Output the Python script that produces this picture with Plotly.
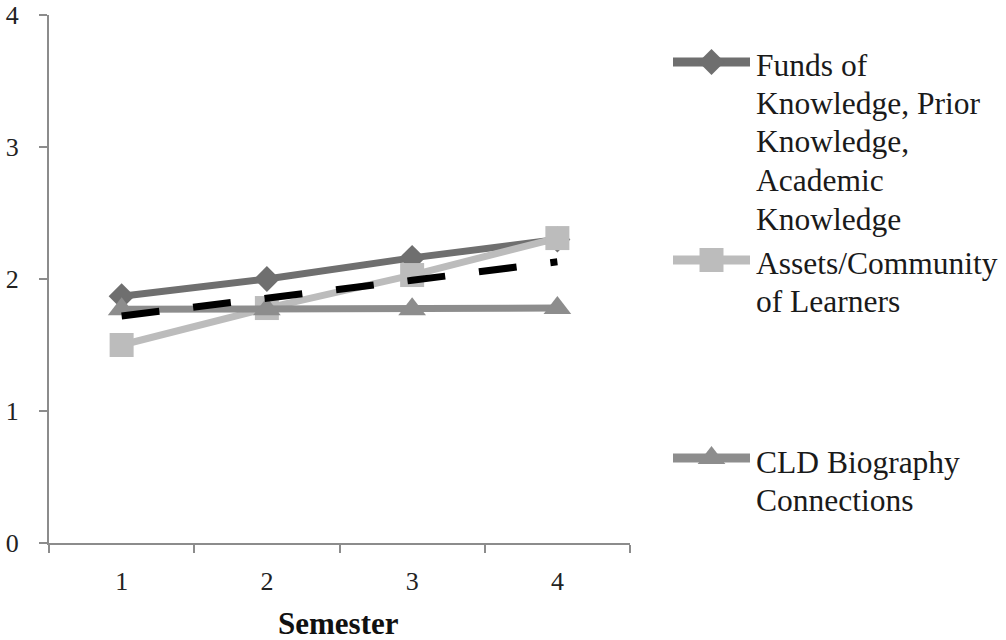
import plotly.graph_objects as go

semesters = ["1", "2", "3", "4"]
funds = [1.87, 2.00, 2.16, 2.30]
assets = [1.50, 1.78, 2.03, 2.31]
cld = [1.77, 1.77, 1.77, 1.78]
average = [1.72, 1.85, 1.99, 2.13]

name_lines = [
    ["Funds of", "Knowledge, Prior", "Knowledge,", "Academic", "Knowledge"],
    ["Assets/Community", "of Learners"],
    ["CLD Biography", "Connections"],
]
colors = ["#6f6f6f", "#bcbcbc", "#8d8d8d"]
symbols = ["diamond", "square", "triangle-up"]
msizes = [20, 24, 24]

W, H = 1006, 640
L, T = 49, 15
PR, PB = 630, 543  # plot-area right & bottom in px


def px_x(px):
    return (px - L) / (W - L)


def px_y(py):
    return (PB - py) / (PB - T)


fig = go.Figure()

series = [funds, assets, cld]
for vals, c, s, ms in zip(series, colors, symbols, msizes):
    fig.add_trace(go.Scatter(
        x=semesters, y=vals, mode="lines+markers",
        line=dict(color=c, width=7),
        marker=dict(symbol=s, size=ms, color=c),
        showlegend=False, xaxis="x", yaxis="y"))

fig.add_trace(go.Scatter(
    x=semesters, y=average, mode="lines",
    line=dict(color="black", width=7, dash="38px,34px"),
    showlegend=False, xaxis="x", yaxis="y"))

# manual legend (symbols on an overlay pixel axis)
leg_sym_y = [62, 260, 458]
leg_first_line = [65, 263, 462]
LINE_GAP = 38.5
for c, s, ms, yy in zip(colors, symbols, msizes, leg_sym_y):
    fig.add_trace(go.Scatter(
        x=[673, 750], y=[yy, yy], mode="lines",
        line=dict(color=c, width=9), showlegend=False,
        xaxis="x2", yaxis="y2", hoverinfo="skip"))
    fig.add_trace(go.Scatter(
        x=[711.5], y=[yy], mode="markers",
        marker=dict(symbol=s, size=ms, color=c), showlegend=False,
        xaxis="x2", yaxis="y2", hoverinfo="skip"))

annotations = []
for lines, y0 in zip(name_lines, leg_first_line):
    for i, line in enumerate(lines):
        annotations.append(dict(
            x=px_x(754), y=px_y(y0 + i * LINE_GAP), xref="paper", yref="paper",
            xanchor="left", yanchor="middle", align="left", showarrow=False,
            text=line,
            font=dict(family="Liberation Serif", size=31.5, color="#1a1a1a")))

annotations.append(dict(
    x=px_x(338), y=px_y(623), xref="paper", yref="paper",
    xanchor="center", yanchor="middle", showarrow=False,
    text="<b>Semester</b>",
    font=dict(family="Liberation Serif", size=31, color="#111111")))

axis_col = "#8c8c8c"
tick_font = dict(family="Liberation Serif", size=26, color="#222222")
fig.update_layout(
    width=W, height=H,
    margin=dict(l=L, r=0, t=T, b=H - PB, autoexpand=False),
    plot_bgcolor="white", paper_bgcolor="white",
    font=dict(family="Liberation Serif", size=26, color="#222222"),
    annotations=annotations,
    xaxis=dict(
        domain=[0, px_x(PR)], type="category", range=[-0.5, 3.5],
        tickson="boundaries", ticks="outside", ticklen=8, tickwidth=2,
        tickcolor=axis_col, showline=True, linecolor=axis_col, linewidth=2,
        showgrid=False, zeroline=False, ticklabelstandoff=14,
        tickfont=tick_font, fixedrange=True),
    yaxis=dict(
        range=[0, 4], dtick=1, tick0=0, ticks="outside", ticklen=8, tickwidth=2,
        tickcolor=axis_col, showline=True, linecolor=axis_col, linewidth=2,
        showgrid=False, zeroline=False, ticklabelstandoff=15,
        tickfont=tick_font, fixedrange=True),
    xaxis2=dict(domain=[px_x(PR), 1], range=[PR, W], visible=False,
                anchor="y2", fixedrange=True),
    yaxis2=dict(domain=[0, 1], range=[PB, T], visible=False,
                anchor="x2", fixedrange=True),
)

fig.write_html(
    "out.html",
    config={"displayModeBar": False},
    post_script="document.body.style.margin='0';document.body.style.overflow='hidden';",
)
